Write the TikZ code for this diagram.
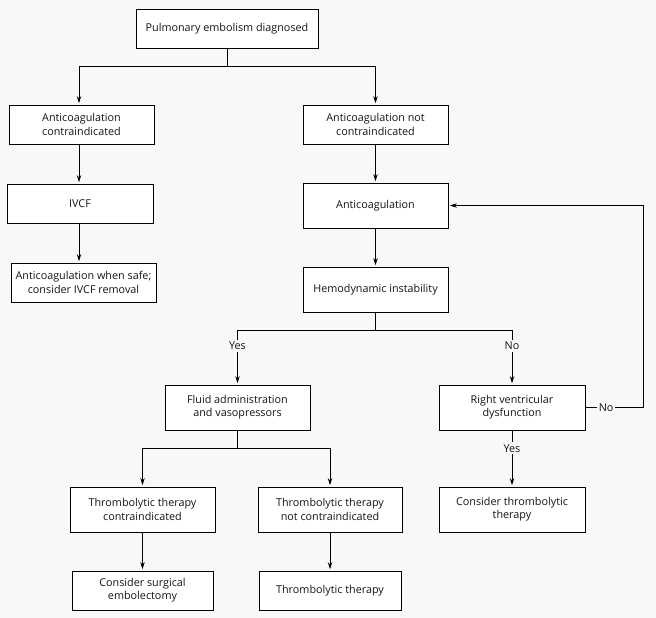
\documentclass[tikz,border=0pt]{standalone}
\usepackage{fontspec}
\setmainfont{Open Sans}
\usetikzlibrary{arrows.meta,calc}
\definecolor{bg}{RGB}{248,248,248}
\definecolor{txt}{RGB}{20,20,20}
\tikzset{
  box/.style={draw=black, line width=0.8pt, fill=white, rectangle, align=center,
    inner sep=0pt, text=txt, font=\fontsize{10.8}{13.2}\selectfont},
  arr/.style={draw=black, line width=0.8pt, -{Stealth[length=7pt,width=4.5pt]}, shorten >=1.5pt},
  ln/.style={draw=black, line width=0.8pt},
  lbl/.style={fill=bg, inner sep=2pt, text=txt, font=\fontsize{10.8}{13.2}\selectfont}
}
\begin{document}
\begin{tikzpicture}[x=1pt,y=-1pt]
\fill[bg] (0,0) rectangle (656,618);
\useasboundingbox (0,0) rectangle (656,618);
% boxes
\node[box, minimum width=182pt, minimum height=39pt] (top) at (227,28.5) {Pulmonary embolism diagnosed};
\node[box, minimum width=145pt, minimum height=39pt] (ac) at (81.5,124.5) {Anticoagulation\\contraindicated};
\node[box, minimum width=145pt, minimum height=39pt] (anc) at (375.5,124.5) {Anticoagulation not\\contraindicated};
\node[box, minimum width=146pt, minimum height=39pt] (ivcf) at (80,203.5) {IVCF};
\node[box, minimum width=145pt, minimum height=45pt] (anti) at (375.5,205.5) {Anticoagulation};
\node[box, minimum width=145pt, minimum height=39pt] (safe) at (83.5,282.5) {Anticoagulation when safe;\\consider IVCF removal};
\node[box, minimum width=145pt, minimum height=45pt] (hemo) at (375.5,289.5) {Hemodynamic instability};
\node[box, minimum width=145pt, minimum height=45pt] (fluid) at (237.5,407.5) {Fluid administration\\and vasopressors};
\node[box, minimum width=146pt, minimum height=45pt] (rv) at (512,407.5) {Right ventricular\\dysfunction};
\node[box, minimum width=145pt, minimum height=45pt] (tc) at (142.5,509.5) {Thrombolytic therapy\\contraindicated};
\node[box, minimum width=144pt, minimum height=45pt] (tnc) at (330,509.5) {Thrombolytic therapy\\not contraindicated};
\node[box, minimum width=146pt, minimum height=45pt] (ct) at (512,509.5) {Consider thrombolytic\\therapy};
\node[box, minimum width=141pt, minimum height=39pt] (surg) at (142.5,590.5) {Consider surgical\\embolectomy};
\node[box, minimum width=142pt, minimum height=39pt] (tt) at (330,590.5) {Thrombolytic therapy};
% branch points
\coordinate (b1) at (227,66);
\coordinate (b2) at (375.5,330);
\coordinate (b3) at (237.5,448);
\coordinate (lx) at (79,0);
\coordinate (rloop) at (643,407.5);
% connectors
\draw[ln] (top.south) -- (b1);
\draw[arr] (b1) -| (lx |- ac.north);
\draw[arr] (b1) -| (anc.north);
\draw[arr] (lx |- ac.south) -- (lx |- ivcf.north);
\draw[arr] (lx |- ivcf.south) -- (lx |- safe.north);
\draw[arr] (anc.south) -- (anti.north);
\draw[arr] (anti.south) -- (hemo.north);
\draw[ln] (hemo.south) -- (b2);
\draw[arr] (b2) -| (fluid.north) node[lbl, pos=0.645] {Yes};
\draw[arr] (b2) -| (rv.north) node[lbl, pos=0.645] {No};
\draw[ln] (fluid.south) -- (b3);
\draw[arr] (b3) -| (tc.north);
\draw[arr] (b3) -| (tnc.north);
\draw[arr] (tc.south) -- (surg.north);
\draw[arr] (tnc.south) -- (tt.north);
\draw[arr] (rv.south) -- (ct.north) node[lbl, pos=0.32] {Yes};
\draw[arr] (rv.east) -- (rloop) node[lbl, pos=0.36] {No} |- (anti.east);
\end{tikzpicture}
\end{document}
